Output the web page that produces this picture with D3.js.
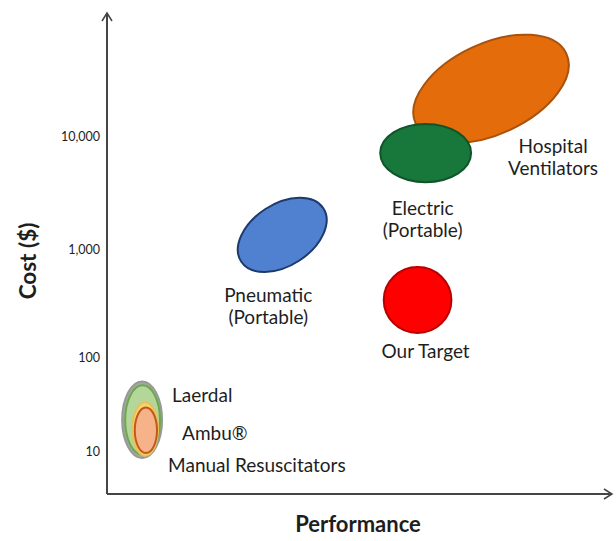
<!DOCTYPE html>
<html>
<head>
<meta charset="utf-8"/>
<script src="https://d3js.org/d3.v7.min.js"></script>
<style>
  body { margin: 0; background: #fff; }
  svg text { font-family: Lato, "Open Sans", sans-serif; fill: #1e1e1e; }
</style>
</head>
<body>
<script>
// ---- data (performance in arbitrary 0-100 units, cost in $) ----
var blobNames = ["Hospital", "Electric", "Pneumatic", "Our Target", "Manual outer", "Laerdal", "Ambu glow", "Ambu"];
var perfLow   = [59.6, 54.1, 25.0, 54.8, 3.0, 3.6, 5.0, 5.5];
var perfHigh  = [92.5, 72.1, 44.4, 68.2, 10.9, 10.5, 10.1, 9.9];
var costLow   = [10400, 3900, 700, 167, 8.4, 9.1, 8.9, 9.5];
var costHigh  = [66000, 12800, 2500, 680, 55, 50, 33, 29];

var costTicks = [10, 100, 1000, 10000];

var labelLines = [["Hospital", "Ventilators"], ["Electric", "(Portable)"], ["Pneumatic", "(Portable)"], ["Our Target"], ["Laerdal"], ["Ambu®"], ["Manual Resuscitators"]];

// ---- styles ----
var blobFill   = ["#e46c0a", "#18773a", "#4f81d0", "#ff0000", "#a3a8a2", "#b3d79a", "#f7d36f", "#f6b38a"];
var blobStroke = ["#a9520d", "#10542a", "#1e3a6c", "#b80000", "#959a94", "#6fa84c", "#e9c15a", "#c0591a"];
var blobAngle  = [-25, 0, -33, 0, 0, 0, 0, 0];
// label offsets from blob centre: [dx, dy, anchor]
var labelBlob = [0, 1, 2, 3, 4, 4, 4];
var labelPos  = [[62, 64, "middle"], [-3, 62, "middle"], [-14, 67, "middle"], [8, 58, "middle"], [30, -18, "start"], [40, 20, "start"], [26, 52, "start"]];

var W = 616, H = 541;
var svg = d3.select("body").append("svg").attr("width", W).attr("height", H);

var x = d3.scaleLinear().domain([0, 100]).range([107, 612]);
var y = d3.scaleLog().domain(costTicks).range([451, 357, 249, 136]);
var axisTop = 13, axisBottom = 494;

// axes lines with open arrow heads
var axisG = svg.append("g").attr("stroke", "#454545").attr("fill", "none").attr("stroke-width", 2);
axisG.append("line").attr("x1", x.range()[0]).attr("y1", axisBottom).attr("x2", x.range()[0]).attr("y2", axisTop);
axisG.append("line").attr("x1", x.range()[0]).attr("y1", axisBottom).attr("x2", x.range()[1]).attr("y2", axisBottom);
axisG.append("path").attr("stroke-width", 1.5)
  .attr("d", "M" + (x.range()[0] - 5) + "," + (axisTop + 8) + "L" + x.range()[0] + "," + axisTop + "L" + (x.range()[0] + 5) + "," + (axisTop + 8));
axisG.append("path").attr("stroke-width", 1.5)
  .attr("d", "M" + (x.range()[1] - 8) + "," + (axisBottom - 5) + "L" + x.range()[1] + "," + axisBottom + "L" + (x.range()[1] - 8) + "," + (axisBottom + 5));

// y tick labels
var yAxis = svg.append("g").attr("transform", "translate(" + x.range()[0] + ",0)")
  .call(d3.axisLeft(y).tickValues(costTicks).tickSize(0).tickPadding(7).tickFormat(d3.format(",")));
yAxis.select(".domain").remove();
yAxis.selectAll("text").style("font-family", "Lato, sans-serif").style("font-size", "12.5px").attr("fill", "#2e2e2e");

// axis titles
svg.append("text").attr("x", 358).attr("y", 532).attr("text-anchor", "middle")
  .style("font-size", "22px").style("font-weight", "bold").text("Performance");
svg.append("text").attr("transform", "translate(36,261) rotate(-90)").attr("text-anchor", "middle")
  .style("font-size", "22.5px").style("font-weight", "bold").text("Cost ($)");

// blobs
var blobs = blobNames.map(function(n, i) {
  var x0 = x(perfLow[i]), x1 = x(perfHigh[i]);
  var y0 = y(costLow[i]), y1 = y(costHigh[i]);
  return { name: n, cx: (x0 + x1) / 2, cy: (y0 + y1) / 2, rx: (x1 - x0) / 2, ry: (y0 - y1) / 2, i: i };
});

svg.append("g").selectAll("ellipse")
  .data(blobs)
  .enter()
  .append("ellipse")
  .attr("cx", function(d) { return d.cx; })
  .attr("cy", function(d) { return d.cy; })
  .attr("rx", function(d) { return d.rx; })
  .attr("ry", function(d) { return d.ry; })
  .attr("transform", function(d) { return "rotate(" + blobAngle[d.i] + "," + d.cx + "," + d.cy + ")"; })
  .attr("fill", function(d) { return blobFill[d.i]; })
  .attr("stroke", function(d) { return blobStroke[d.i]; })
  .attr("stroke-width", 2);

// labels
labelLines.forEach(function(lines, k) {
  var b = blobs[labelBlob[k]], p = labelPos[k];
  var t = svg.append("text")
    .attr("x", b.cx + p[0]).attr("y", b.cy + p[1])
    .attr("text-anchor", p[2]).style("font-size", "19px");
  lines.forEach(function(s, j) {
    t.append("tspan").attr("x", b.cx + p[0]).attr("dy", j == 0 ? 0 : 22).text(s);
  });
});
</script>
</body>
</html>
